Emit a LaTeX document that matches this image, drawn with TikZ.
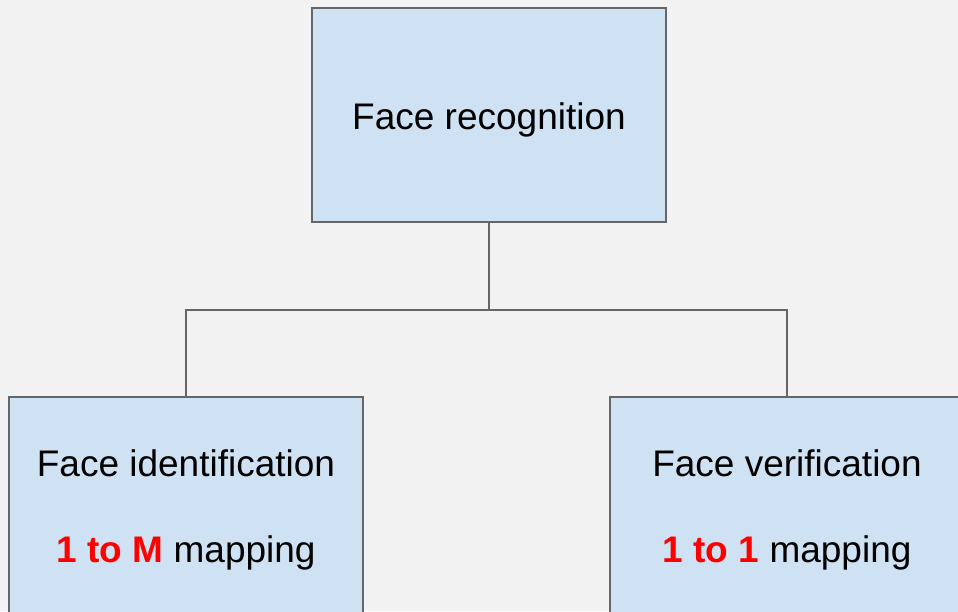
\documentclass[tikz,border=0pt]{standalone}
\usepackage{fontspec}
\setmainfont{Liberation Sans}
\definecolor{bgcol}{HTML}{F2F2F2}
\definecolor{boxfill}{HTML}{CFE2F3}
\definecolor{boxline}{HTML}{666666}
\definecolor{hired}{HTML}{FF0000}
\tikzset{
  box/.style={draw=boxline, fill=boxfill, line width=1.6pt, minimum width=354pt, inner sep=0pt},
  label/.style={inner sep=0pt, font=\fontsize{37}{44}\selectfont},
  link/.style={draw=boxline, line width=1.6pt}
}
\begin{document}
\begin{tikzpicture}[x=1pt, y=-1pt]
  \useasboundingbox (0,0) rectangle (958,611);
  \clip (0,0) rectangle (958,611);
  \fill[bgcol] (0,0) rectangle (958,611);

  % root box
  \node[box, minimum height=214pt] (root) at (489,115) {};
  \node[label] (roottxt) at (489,120) {Face recognition};

  % child boxes, running past the lower edge
  \node[box, minimum height=250pt] (ident) at (186,522) {};
  \node[box, minimum height=250pt] (verif) at (787,522) {};

  \node[label] (identtxt) at (186,463) {Face identification};
  \node[label] (identmap) at (186,553) {\textcolor{hired}{\bfseries 1 to M} mapping};
  \node[label] (veriftxt) at (787,463) {Face verification};
  \node[label] (verifmap) at (787,553) {\textcolor{hired}{\bfseries 1 to 1} mapping};

  % tree connectors
  \coordinate (split) at (489,310);
  \draw[link] (root.south) -- (split);
  \draw[link] (split) -| (ident.north);
  \draw[link] (split) -| (verif.north);
\end{tikzpicture}
\end{document}
